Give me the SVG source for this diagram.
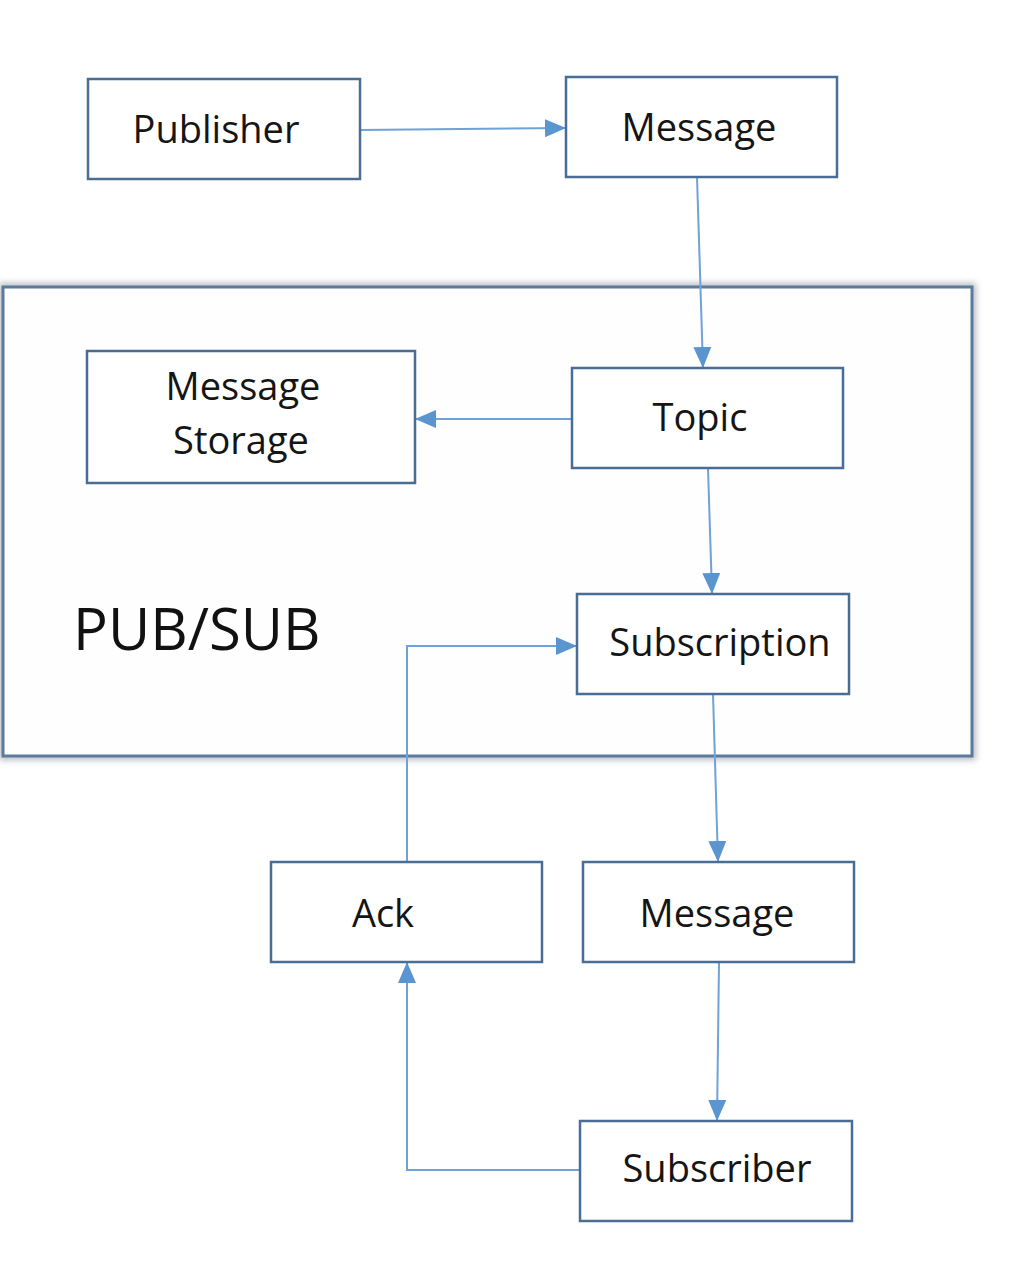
<svg xmlns="http://www.w3.org/2000/svg" width="1027" height="1281" viewBox="0 0 1027 1281">
<style>
.box{fill:#ffffff;stroke:#4a6d94;stroke-width:2.5}
.lbl{font-family:"Open Sans",sans-serif;font-size:38px;fill:#151515;text-anchor:middle}
.con{fill:none;stroke:#6fa2d6;stroke-width:2}
</style>
<defs>
<marker id="ah" markerUnits="userSpaceOnUse" markerWidth="22" markerHeight="18" refX="21" refY="9" orient="auto">
<path d="M0,0 L21,9 L0,18 z" fill="#5b95cf"/>
</marker>
<filter id="sh" x="-5%" y="-5%" width="110%" height="110%">
<feGaussianBlur stdDeviation="3"/>
</filter>
</defs>
<rect width="1027" height="1281" fill="#ffffff"/>
<g id="pubsub">
<rect x="3" y="287" width="969" height="469" fill="none" stroke="#b8bcc2" stroke-width="8" filter="url(#sh)"/>
<rect x="3" y="287" width="969" height="469" fill="#fefefe" stroke="#5b7a9c" stroke-width="3"/>
<text x="73" y="650" font-family="'Open Sans',sans-serif" font-size="58" fill="#111">PUB/SUB</text>
</g>
<g id="connectors">
<path class="con" d="M360,130 L566,128" marker-end="url(#ah)"/>
<path class="con" d="M697,177 L703,368" marker-end="url(#ah)"/>
<path class="con" d="M572,419 L415,419" marker-end="url(#ah)"/>
<path class="con" d="M708,468 L712,594" marker-end="url(#ah)"/>
<path class="con" d="M713,694 L718,862" marker-end="url(#ah)"/>
<path class="con" d="M719,962 L717,1121" marker-end="url(#ah)"/>
<path class="con" d="M580,1170 L407,1170 L407,962" marker-end="url(#ah)"/>
<path class="con" d="M407,862 L407,646 L577,646" marker-end="url(#ah)"/>
</g>
<g id="publisher"><rect class="box" x="88" y="79" width="272" height="100"/><text class="lbl" x="216" y="143">Publisher</text></g>
<g id="message1"><rect class="box" x="566" y="77" width="271" height="100"/><text class="lbl" x="699" y="141">Message</text></g>
<g id="storage"><rect class="box" x="87" y="351" width="328" height="132"/><text class="lbl" x="243" y="400">Message</text><text class="lbl" x="241" y="454">Storage</text></g>
<g id="topic"><rect class="box" x="572" y="368" width="271" height="100"/><text class="lbl" x="700" y="431">Topic</text></g>
<g id="subscription"><rect class="box" x="577" y="594" width="272" height="100"/><text class="lbl" x="720" y="656">Subscription</text></g>
<g id="ack"><rect class="box" x="271" y="862" width="271" height="100"/><text class="lbl" x="383" y="927">Ack</text></g>
<g id="message2"><rect class="box" x="583" y="862" width="271" height="100"/><text class="lbl" x="717" y="927">Message</text></g>
<g id="subscriber"><rect class="box" x="580" y="1121" width="272" height="100"/><text class="lbl" x="717" y="1182">Subscriber</text></g>
</svg>
